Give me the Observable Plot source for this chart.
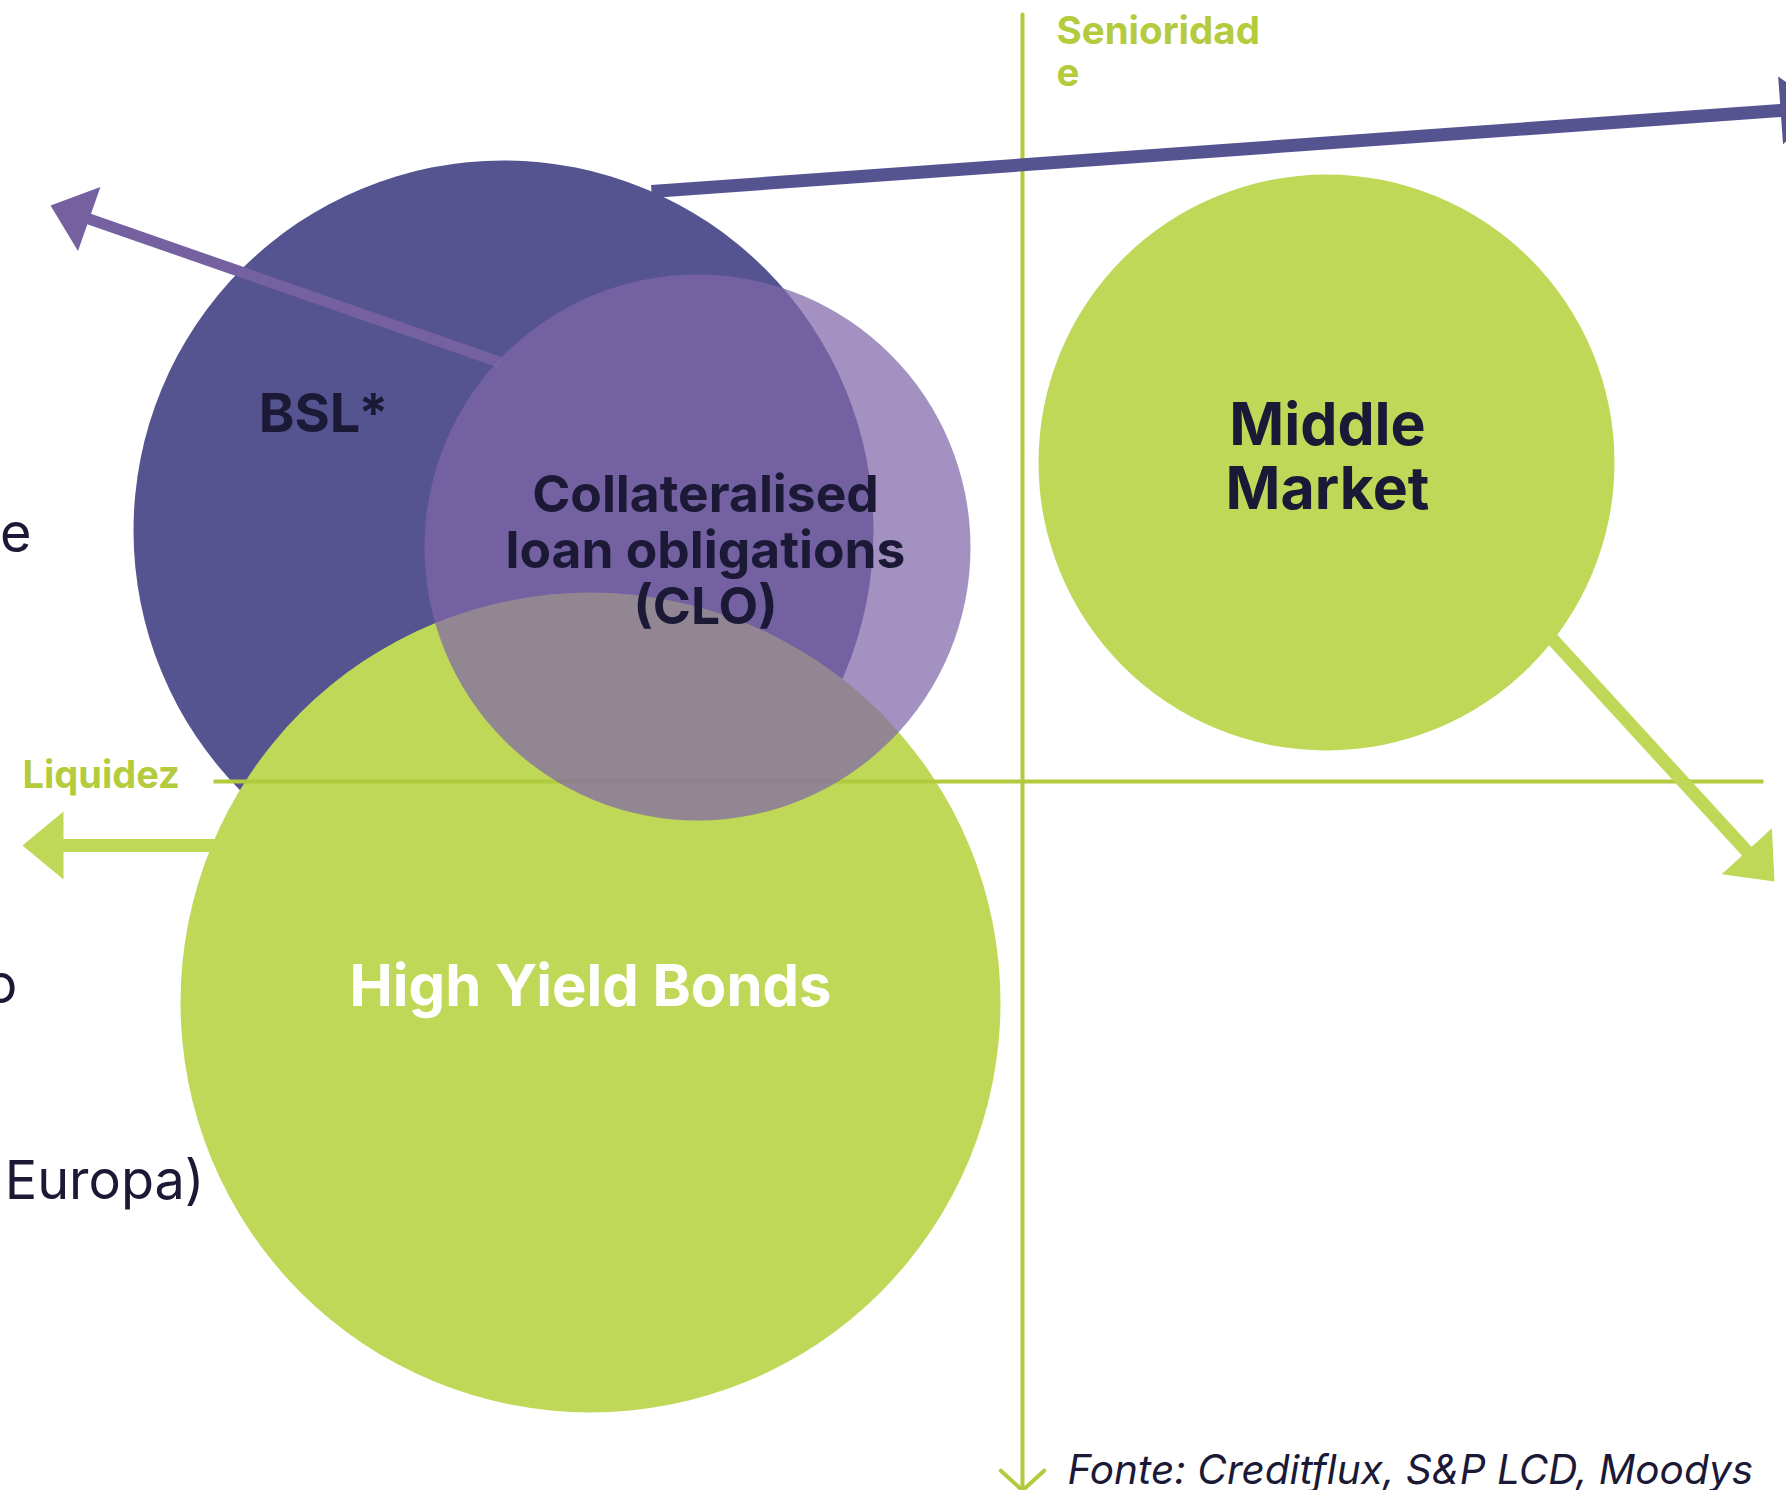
<!DOCTYPE html>
<html>
<head>
<meta charset="utf-8">
<script src="https://cdn.jsdelivr.net/npm/d3@7"></script>
<script src="https://cdn.jsdelivr.net/npm/@observablehq/plot@0.6"></script>
<style>
  html, body { margin: 0; padding: 0; background: #ffffff; overflow: hidden; }
  #chart svg { display: block; overflow: hidden; }
</style>
</head>
<body>
<div id="chart"></div>
<script>
const W = 1786, H = 1490;
const FONT = "Inter, 'Noto Sans', sans-serif";

// ---- circles (market segments) ----
const circleNames = ["BSL*", "CLO", "High Yield Bonds", "Middle Market"];
const circleX = [503, 697, 590, 1326];
const circleY = [530, 547, 1002, 462];
const circleR = [370, 273, 410, 288];
const circleFill = ["#555491", "#7f66a9", "#bfd858", "#bfd858"];
const circleOpacity = [1, 0.72, 1, 1];

// ---- circle labels ----
const labelText = ["BSL*", "Collateralised\nloan obligations\n(CLO)", "High Yield Bonds", "Middle\nMarket"];
const labelX = [323, 705, 590, 1327];
const labelY = [431, 623, 1005, 508];          // baseline of last line
const labelSize = [54, 51.5, 58, 59];
const labelColor = ["#1b1936", "#1b1936", "#ffffff", "#1b1936"];
const labelLineHeight = [1, 1.08, 1, 1.085];

// ---- arrows leaving the circles ----
const arrowNames = ["BSL", "CLO", "HY", "MM"];
const arrowX1 = [651, 500, 300, 1533];
const arrowY1 = [191, 362, 845, 618];
const arrowX2 = [1821, 50, 22, 1774];
const arrowY2 = [107, 205, 845, 881];
const arrowWidth = [13, 11, 13, 13];
const arrowColor = ["#555491", "#7561a0", "#bfd858", "#bfd858"];
const headLength = 41, headHalfWidth = 34;

// ---- quadrant axes ----
const axisNames = ["Senioridade", "Liquidez"];
const axisX1 = [1022, 213];
const axisY1 = [14, 781];
const axisX2 = [1022, 1491];
const axisY2 = [1490, 781];
const axisColor = "#b2ca3c";

// ---- axis labels ----
const axisLabelText = ["Senioridad\ne", "Liquidez"];
const axisLabelX = [1056, 22];
const axisLabelY = [85, 787];
const axisLabelSize = [38.5, 38];

// ---- legend fragments clipped at the left edge ----
const legendText = ["e", "o", "Europa)"];
const legendX = [31, 17, 204];
const legendY = [551, 1002, 1198];
const legendSize = 54;

// ---- source ----
const sourceText = ["Fonte: Creditflux, S&P LCD, Moodys"];
const sourceX = [1067];
const sourceY = [1483];

// ---------- build tables ----------
const circles = circleNames.map((n, i) => ({name: n, x: circleX[i], y: circleY[i], r: circleR[i], fill: circleFill[i], opacity: circleOpacity[i]}));
const arrows = arrowNames.map((n, i) => {
  const dx = arrowX2[i] - arrowX1[i], dy = arrowY2[i] - arrowY1[i];
  const L = Math.hypot(dx, dy), ux = dx / L, uy = dy / L;
  const bx = arrowX2[i] - ux * headLength, by = arrowY2[i] - uy * headLength;
  return {
    name: n, color: arrowColor[i], width: arrowWidth[i],
    x1: arrowX1[i], y1: arrowY1[i],
    sx2: bx + ux * 4, sy2: by + uy * 4,
    head: [
      {x: arrowX2[i], y: arrowY2[i]},
      {x: bx - uy * headHalfWidth, y: by + ux * headHalfWidth},
      {x: bx + uy * headHalfWidth, y: by - ux * headHalfWidth}
    ]
  };
});
const axes = axisNames.map((n, i) => ({name: n, x1: axisX1[i], y1: axisY1[i], x2: axisX2[i] === 1491 ? 1763 : axisX2[i], y2: axisY2[i]}));
axes[0].x2 = axisX1[0];

function circleMark(name) {
  const c = circles.filter(d => d.name === name);
  return Plot.dot(c, {x: "x", y: "y", r: "r", fill: c[0].fill, fillOpacity: c[0].opacity, stroke: "none"});
}
function arrowMarks(name) {
  const a = arrows.filter(d => d.name === name);
  return [
    Plot.link(a, {x1: "x1", y1: "y1", x2: "sx2", y2: "sy2", stroke: a[0].color, strokeWidth: a[0].width, strokeLinecap: "butt"}),
    Plot.line(a[0].head, {x: "x", y: "y", fill: a[0].color, stroke: "none", curve: "linear-closed"})
  ];
}
function labelMark(i) {
  return Plot.text([labelText[i]], {
    x: () => labelX[i], y: () => labelY[i], text: d => d,
    fontSize: labelSize[i], fontWeight: 700, fill: labelColor[i], fontFamily: FONT,
    textAnchor: "middle", lineAnchor: "bottom", lineHeight: labelLineHeight[i]
  });
}
function axisLabelMark(i) {
  return Plot.text([axisLabelText[i]], {
    x: () => axisLabelX[i], y: () => axisLabelY[i], text: d => d,
    fontSize: axisLabelSize[i], fontWeight: 700, fill: "#b3cb3d", fontFamily: FONT,
    textAnchor: "start", lineAnchor: "bottom", lineHeight: 1.09
  });
}

const plot = Plot.plot({
  width: W, height: H, margin: 0,
  x: {domain: [0, W], range: [0, W], axis: null},
  y: {domain: [0, H], range: [0, H], axis: null},
  r: {type: "identity"},
  style: {background: "#ffffff"},
  marks: [
    // vertical axis (Senioridade)
    Plot.arrow(axes.filter(d => d.name === "Senioridade"), {x1: "x1", y1: "y1", x2: "x2", y2: "y2", stroke: axisColor, strokeWidth: 4, headLength: 11, headAngle: 95}),
    ...arrowMarks("HY"),
    circleMark("BSL*"),
    ...arrowMarks("BSL"),
    circleMark("High Yield Bonds"),
    // horizontal axis (Liquidez)
    Plot.link(axes.filter(d => d.name === "Liquidez"), {x1: "x1", y1: "y1", x2: "x2", y2: "y2", stroke: axisColor, strokeWidth: 4}),
    ...arrowMarks("CLO"),
    circleMark("CLO"),
    ...arrowMarks("MM"),
    circleMark("Middle Market"),
    ...labelText.map((_, i) => labelMark(i)),
    ...axisLabelText.map((_, i) => axisLabelMark(i)),
    Plot.text(legendText, {x: (d, i) => legendX[i], y: (d, i) => legendY[i], text: d => d,
      fontSize: legendSize, fontWeight: 400, fill: "#1b1936", fontFamily: FONT, textAnchor: "end", lineAnchor: "bottom"}),
    Plot.text(sourceText, {x: (d, i) => sourceX[i], y: (d, i) => sourceY[i], text: d => d,
      fontSize: 40.5, fontStyle: "italic", fontWeight: 400, fill: "#1b1936", fontFamily: FONT, textAnchor: "start", lineAnchor: "bottom"})
  ]
});
document.getElementById("chart").append(plot);
</script>
</body>
</html>
